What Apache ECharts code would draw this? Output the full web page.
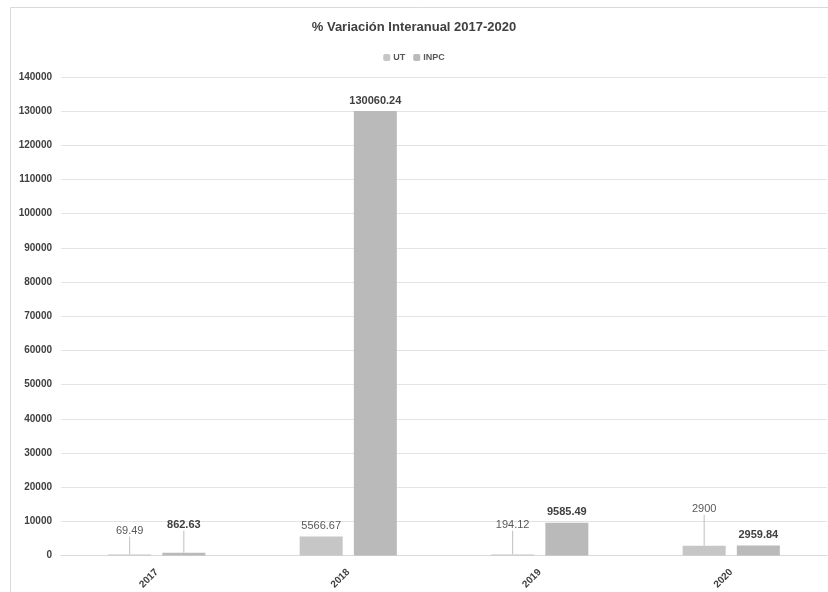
<!DOCTYPE html>
<html lang="es">
<head>
<meta charset="utf-8">
<title>% Variación Interanual 2017-2020</title>
<script src="https://cdn.jsdelivr.net/npm/echarts@6/dist/echarts.min.js"></script>
<style>
  html, body { margin: 0; padding: 0; background: #fff; }
  #chart { width: 828px; height: 592px; }
</style>
</head>
<body>
<div id="chart"></div>
<script>
// datos
var years = ['2017', '2018', '2019', '2020'];
var utValues = [69.49, 5566.67, 194.12, 2900];
var inpcValues = [862.63, 130060.24, 9585.49, 2959.84];

// desplazamiento vertical de las etiquetas (líneas guía como en el original)
var utLabelDy = [-13, 0, -19, -26];
var inpcLabelDy = [-17, 0, 0, 0];

var chart = echarts.init(document.getElementById('chart'));

function makeLabelLayout(dyList) {
  return function (params) {
    return { dy: dyList[params.dataIndex] };
  };
}

function withGuides(values, dyList) {
  return values.map(function (v, i) {
    return { value: v, labelLine: { show: dyList[i] !== 0 } };
  });
}

var option = {
  animation: false,
  textStyle: { fontFamily: '"Liberation Sans", Arial, sans-serif' },
  graphic: [{
    type: 'rect',
    shape: { x: 10.5, y: 7.5, width: 830, height: 600 },
    style: { fill: 'none', stroke: '#d9d9d9', lineWidth: 1 },
    silent: true
  }],
  title: {
    text: '% Variación Interanual 2017-2020',
    left: 'center',
    top: 16,
    textStyle: {
      fontSize: 13,
      fontWeight: 'bold',
      color: '#404040'
    }
  },
  legend: {
    top: 48,
    left: 'center',
    itemWidth: 7,
    itemHeight: 7,
    itemGap: 8,
    textStyle: {
      fontSize: 9,
      fontWeight: 'bold',
      color: '#595959',
      padding: [0, 0, 0, -2]
    },
    data: ['UT', 'INPC']
  },
  grid: { left: 61, right: 1, top: 77, bottom: 36, containLabel: false },
  xAxis: {
    type: 'category',
    data: years,
    axisTick: { show: false },
    axisLine: { lineStyle: { color: '#d9d9d9' } },
    axisLabel: {
      rotate: 45,
      fontSize: 10,
      fontWeight: 'bold',
      color: '#404040',
      margin: 15
    }
  },
  yAxis: {
    type: 'value',
    min: 0,
    max: 140000,
    interval: 10000,
    axisLine: { show: false },
    axisTick: { show: false },
    splitLine: { lineStyle: { color: '#e3e3e3' } },
    axisLabel: {
      fontSize: 10,
      fontWeight: 'bold',
      color: '#404040',
      margin: 9,
      formatter: function (v) { return String(v); }
    }
  },
  series: [
    {
      name: 'UT',
      type: 'bar',
      data: withGuides(utValues, utLabelDy),
      barWidth: 43,
      barGap: '26%',
      barMinHeight: 1,
      itemStyle: { color: '#c6c6c6' },
      label: {
        show: true,
        position: 'top',
        distance: 5,
        fontSize: 11,
        color: '#595959'
      },
      labelLine: { show: true, lineStyle: { color: '#bfbfbf', width: 1 } },
      labelLayout: makeLabelLayout(utLabelDy)
    },
    {
      name: 'INPC',
      type: 'bar',
      data: withGuides(inpcValues, inpcLabelDy),
      barWidth: 43,
      barMinHeight: 1,
      itemStyle: { color: '#bababa' },
      label: {
        show: true,
        position: 'top',
        distance: 5,
        fontSize: 11,
        fontWeight: 'bold',
        color: '#404040'
      },
      labelLine: { show: true, lineStyle: { color: '#bfbfbf', width: 1 } },
      labelLayout: makeLabelLayout(inpcLabelDy)
    }
  ]
};

chart.setOption(option);
</script>
</body>
</html>
